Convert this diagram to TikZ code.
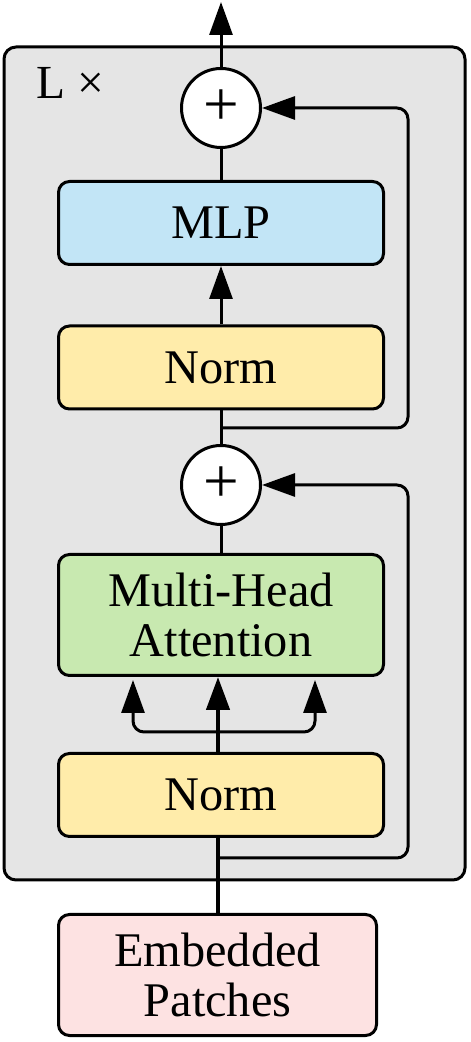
\documentclass[tikz,border=0pt]{standalone}
\usepackage{fontspec}
\setmainfont{Liberation Serif}
\usetikzlibrary{arrows.meta}
\definecolor{mlpblue}{RGB}{194,229,246}
\definecolor{normyellow}{RGB}{255,236,170}
\definecolor{mhagreen}{RGB}{200,233,176}
\definecolor{embpink}{RGB}{253,226,226}
\definecolor{framegray}{RGB}{229,229,229}
\tikzset{
  block/.style={draw, line width=0.06cm, rounded corners=0.22cm, minimum width=6.5cm,
    minimum height=1.66cm, align=center, font=\fontsize{27.5}{28.5}\selectfont},
  addop/.style={draw, circle, fill=white, line width=0.06cm, minimum size=1.58cm,
    inner sep=0pt, font=\fontsize{36}{36}\selectfont},
  link/.style={line width=0.06cm},
  trunk/.style={line width=0.09cm},
}
\begin{document}
\begin{tikzpicture}[>={Triangle[length=0.66cm, width=0.46cm]}]
  \useasboundingbox (0,0) rectangle (9.42,20.84);
  % encoder block frame
  \draw[link, fill=framegray, rounded corners=0.24cm] (0.08,3.24) rectangle (9.30,19.90);
  \node[anchor=base west, font=\fontsize{27}{28.5}\selectfont] (rep) at (0.60,18.86) {L ×};
  % blocks
  \node[block, fill=embpink, minimum width=6.36cm, minimum height=2.42cm] (emb) at (4.35,1.34) {Embedded\\Patches};
  \node[block, fill=normyellow] (norma) at (4.42,4.94) {Norm};
  \node[block, fill=mhagreen, minimum height=2.42cm] (mha) at (4.42,8.54) {Multi-Head\\Attention};
  \node[addop] (adda) at (4.42,11.14) {+};
  \node[block, fill=normyellow] (normb) at (4.42,13.49) {Norm};
  \node[block, fill=mlpblue] (mlp) at (4.42,16.38) {MLP};
  \node[addop] (addb) at (4.42,18.68) {+};
  \coordinate (out) at (4.42,20.80);
  % branch points
  \coordinate (fan) at (4.36,6.20);
  \coordinate (skipa) at (4.36,3.68);
  \coordinate (skipb) at (4.42,12.28);
  \coordinate (turna) at (8.16,11.14);
  \coordinate (turnb) at (8.16,18.68);
  % main path
  \draw[trunk] (emb.north -| fan) -- (norma.south -| fan);
  \draw[trunk] (norma.north -| fan) -- (fan);
  \draw[trunk, ->] (fan) -- (mha.south -| fan);
  \draw[link, ->, rounded corners=0.22cm] (fan) -| (2.66,7.24);
  \draw[link, ->, rounded corners=0.22cm] (fan) -| (6.30,7.24);
  \draw[link] (mha.north) -- (adda.south);
  \draw[link] (adda.north) -- (normb.south);
  \draw[link, ->] (normb.north) -- (mlp.south);
  \draw[link] (mlp.north) -- (addb.south);
  \draw[link, ->] (addb.north) -- (out);
  % residual connections
  \draw[link, ->, rounded corners=0.22cm] (skipa) -| (turna) -- (adda.east);
  \draw[link, ->, rounded corners=0.22cm] (skipb) -| (turnb) -- (addb.east);
\end{tikzpicture}
\end{document}
